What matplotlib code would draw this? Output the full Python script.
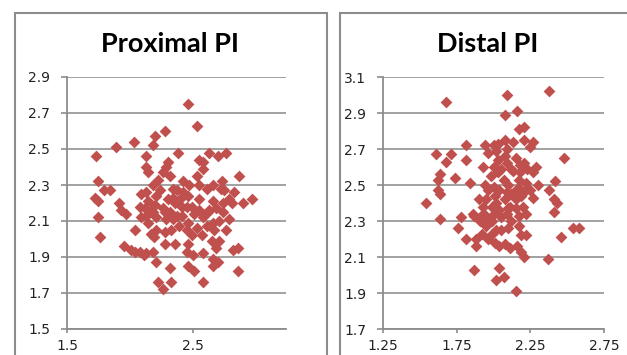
import matplotlib
matplotlib.use("Agg")
import matplotlib.pyplot as plt
from matplotlib.patches import Rectangle

# proximal PI scatter
prox_x = [2.46, 2.53, 2.28, 2.20, 2.03, 1.89, 1.73, 2.18, 2.38, 2.63, 2.70, 2.76, 2.58, 2.30,
          2.13, 2.13, 2.58, 2.87, 1.75, 1.84, 1.79, 1.72, 1.75, 1.91, 1.93, 1.97, 1.75, 1.76,
          2.04, 2.09, 2.18, 2.22, 2.26, 2.29, 2.32, 2.42, 2.47, 2.42, 2.37, 2.53, 2.55, 2.61,
          2.66, 2.73, 2.72, 2.83, 2.79, 2.90, 2.97, 2.74, 2.66, 2.68, 2.62, 2.55, 2.51, 2.41,
          2.36, 2.30, 2.26, 2.20, 2.14, 2.12, 2.18, 2.13, 2.09, 2.14, 2.21, 2.32, 2.34, 2.41,
          2.46, 2.39, 2.33, 2.28, 2.21, 2.19, 2.45, 2.53, 2.49, 2.57, 2.67, 2.76, 2.79, 2.71,
          2.66, 2.65, 2.71, 2.68, 2.82, 2.86, 2.66, 2.66, 2.70, 2.58, 2.50, 2.45, 2.46, 2.36,
          2.28, 2.18, 2.11, 2.08, 2.01, 1.95, 2.21, 2.32, 2.46, 2.51, 2.86, 2.58, 2.33, 2.22,
          2.26, 2.13, 2.21, 2.34, 2.40, 2.46, 2.08, 2.17, 2.29, 2.37, 2.61, 2.55, 2.75, 2.63,
          2.81, 2.74, 2.04, 2.13, 2.24, 2.49, 2.28, 2.45, 2.58, 2.17, 2.34, 2.14, 2.55]
prox_y = [2.75, 2.63, 2.60, 2.57, 2.54, 2.51, 2.46, 2.52, 2.48, 2.48, 2.46, 2.48, 2.43, 2.43,
          2.46, 2.40, 2.39, 2.35, 2.32, 2.27, 2.27, 2.23, 2.21, 2.20, 2.16, 2.14, 2.12, 2.01,
          2.05, 2.25, 2.30, 2.33, 2.37, 2.40, 2.35, 2.32, 2.30, 2.26, 2.27, 2.35, 2.30, 2.28,
          2.30, 2.32, 2.28, 2.26, 2.22, 2.20, 2.22, 2.20, 2.21, 2.17, 2.15, 2.16, 2.14, 2.18,
          2.20, 2.22, 2.17, 2.19, 2.21, 2.17, 2.15, 2.13, 2.12, 2.09, 2.12, 2.15, 2.11, 2.13,
          2.09, 2.07, 2.05, 2.04, 2.05, 2.01, 2.05, 2.06, 2.02, 2.02, 2.05, 2.05, 2.11, 2.10,
          2.09, 1.99, 1.99, 1.95, 1.94, 1.95, 1.89, 1.85, 1.87, 1.92, 1.91, 1.93, 1.97, 1.97,
          1.97, 1.93, 1.91, 1.93, 1.94, 1.96, 1.87, 1.84, 1.85, 1.82, 1.82, 1.76, 1.76, 1.76,
          1.72, 2.26, 2.24, 2.28, 2.22, 2.24, 2.18, 2.03, 2.11, 2.13, 2.07, 2.22, 2.27, 2.16,
          2.20, 2.15, 1.93, 1.92, 2.27, 2.18, 2.15, 2.18, 2.12, 2.16, 2.23, 2.37, 2.44]

# distal PI scatter
dist_x = [2.38, 2.09, 1.68, 2.16, 2.08, 2.17, 2.21, 2.08, 2.13, 2.21, 2.27, 2.25, 1.81, 1.94,
          2.00, 2.03, 1.96, 2.02, 2.09, 1.61, 1.71, 1.68, 1.81, 1.74, 1.84, 1.64, 1.62, 1.62,
          1.64, 1.54, 1.64, 1.76, 1.78, 1.86, 1.81, 1.88, 1.87, 2.02, 2.04, 2.07, 2.15, 2.37,
          2.48, 2.42, 2.38, 2.41, 2.43, 2.41, 2.46, 2.54, 2.58, 2.30, 2.29, 2.27, 2.21, 2.23,
          2.15, 2.22, 2.25, 2.19, 2.20, 2.22, 2.17, 2.15, 2.11, 2.09, 2.05, 2.04, 2.00, 1.95,
          1.93, 1.95, 1.96, 1.94, 1.93, 2.00, 2.03, 2.07, 2.10, 2.12, 2.09, 2.04, 2.01, 2.08,
          2.12, 2.09, 2.00, 1.98, 2.05, 2.03, 2.08, 2.13, 2.17, 2.18, 2.27, 1.99, 1.91, 1.95,
          1.92, 1.99, 1.96, 2.01, 2.04, 2.05, 2.10, 2.08, 2.11, 2.16, 2.19, 2.21, 2.19, 2.22,
          2.17, 2.12, 2.02, 1.88, 1.90, 1.93, 1.87, 2.22, 2.15, 2.18, 2.02, 2.10, 2.16, 1.99,
          2.18]
dist_y = [3.02, 3.00, 2.96, 2.91, 2.89, 2.81, 2.82, 2.75, 2.74, 2.75, 2.74, 2.71, 2.72, 2.72,
          2.72, 2.73, 2.68, 2.69, 2.70, 2.67, 2.67, 2.63, 2.64, 2.54, 2.51, 2.56, 2.53, 2.47,
          2.45, 2.40, 2.31, 2.26, 2.32, 2.34, 2.20, 2.16, 2.03, 1.97, 2.04, 1.99, 1.91, 2.09,
          2.65, 2.52, 2.47, 2.42, 2.40, 2.35, 2.21, 2.26, 2.26, 2.50, 2.60, 2.57, 2.62, 2.59,
          2.65, 2.51, 2.47, 2.44, 2.38, 2.34, 2.33, 2.42, 2.38, 2.34, 2.32, 2.36, 2.34, 2.33,
          2.34, 2.42, 2.47, 2.50, 2.60, 2.60, 2.57, 2.53, 2.50, 2.59, 2.62, 2.47, 2.44, 2.42,
          2.45, 2.46, 2.49, 2.55, 2.59, 2.64, 2.66, 2.58, 2.53, 2.48, 2.43, 2.38, 2.30, 2.27,
          2.23, 2.23, 2.20, 2.18, 2.16, 2.25, 2.26, 2.17, 2.15, 2.16, 2.13, 2.10, 2.22, 2.22,
          2.27, 2.30, 2.25, 2.20, 2.42, 2.38, 2.33, 2.47, 2.37, 2.57, 2.40, 2.37, 2.48, 2.30,
          2.61]

prox_xticks = [1.5, 2.5]
prox_yticks = [1.5, 1.7, 1.9, 2.1, 2.3, 2.5, 2.7, 2.9]
dist_xticks = [1.25, 1.75, 2.25, 2.75]
dist_yticks = [1.7, 1.9, 2.1, 2.3, 2.5, 2.7, 2.9, 3.1]

W, H = 627, 355
MARK = "#c0504d"
AXCOL = "#8c8c8c"
GRIDCOL = "#9a9a9a"


def style_axis(ax, xticks, yticks, xlim, ylim):
    ax.set_xlim(*xlim)
    ax.set_ylim(*ylim)
    ax.set_xticks(xticks)
    ax.set_yticks(yticks)
    ax.set_xticklabels(["{:g}".format(t) for t in xticks])
    ax.set_yticklabels(["{:g}".format(t) for t in yticks])
    for s in ("top", "right"):
        ax.spines[s].set_visible(False)
    for s in ("left", "bottom"):
        ax.spines[s].set_color(AXCOL)
        ax.spines[s].set_linewidth(1.3)
    ax.yaxis.grid(True, color=GRIDCOL, linewidth=1.3)
    ax.set_axisbelow(True)
    ax.tick_params(axis="y", direction="out", length=4, width=1.2, color=AXCOL,
                   labelsize=10, labelcolor="#222222", pad=8)
    ax.tick_params(axis="x", direction="out", length=3, width=1.2, color=AXCOL,
                   labelsize=10, labelcolor="#222222", pad=4)


def main():
    fig = plt.figure(figsize=(W / 100, H / 100), dpi=100)
    fig.patch.set_facecolor("white")

    # chart frames (both run off the bottom, the right one off the right edge)
    fig.patches.append(Rectangle((15 / W, -0.1), (327 - 15) / W, 1.1 - 13 / H,
                                 transform=fig.transFigure, fill=False,
                                 edgecolor=AXCOL, linewidth=1.5))
    fig.patches.append(Rectangle((340 / W, -0.1), 0.5, 1.1 - 13 / H,
                                 transform=fig.transFigure, fill=False,
                                 edgecolor=AXCOL, linewidth=1.5))

    bottom = 1 - 329 / H
    height = 252 / H

    ax1 = fig.add_axes([67 / W, bottom, 219 / W, height])
    style_axis(ax1, prox_xticks, prox_yticks, (1.5, 3.24), (1.5, 2.9))
    ax1.scatter(prox_x, prox_y, marker="D", s=36, color=MARK, linewidths=0, zorder=3)

    ax2 = fig.add_axes([383 / W, bottom, 221 / W, height])
    style_axis(ax2, dist_xticks, dist_yticks, (1.25, 2.75), (1.7, 3.1))
    ax2.scatter(dist_x, dist_y, marker="D", s=36, color=MARK, linewidths=0, zorder=3)

    fig.text(170 / W, 1 - 44 / H, "Proximal PI", ha="center", va="center",
             fontsize=19.5, fontweight="bold", family=["Lato", "DejaVu Sans"])
    fig.text(488 / W, 1 - 44 / H, "Distal PI", ha="center", va="center",
             fontsize=19.5, fontweight="bold", family=["Lato", "DejaVu Sans"])

    fig.savefig("out.png", dpi=100)


if __name__ == "__main__":
    main()
